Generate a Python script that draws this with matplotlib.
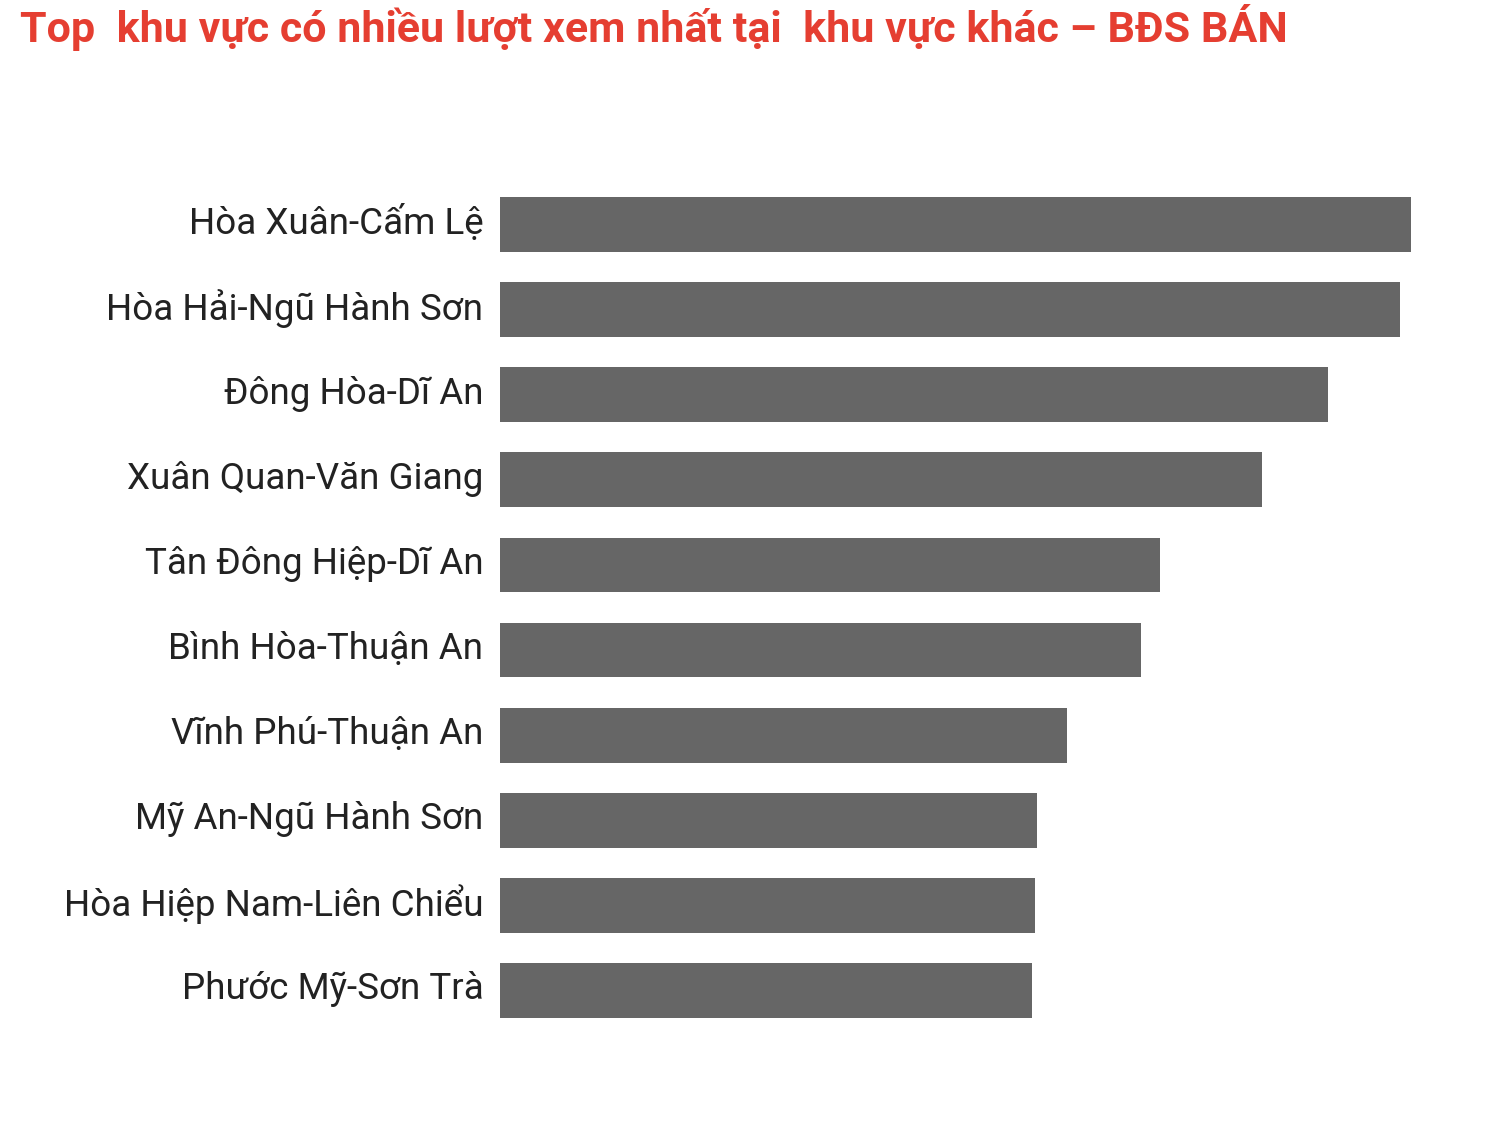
import matplotlib.pyplot as plt
import matplotlib.transforms as mtransforms

# khu vực (từ trên xuống)
areas = [
    "Hòa Xuân-Cấm Lệ",
    "Hòa Hải-Ngũ Hành Sơn",
    "Đông Hòa-Dĩ An",
    "Xuân Quan-Văn Giang",
    "Tân Đông Hiệp-Dĩ An",
    "Bình Hòa-Thuận An",
    "Vĩnh Phú-Thuận An",
    "Mỹ An-Ngũ Hành Sơn",
    "Hòa Hiệp Nam-Liên Chiểu",
    "Phước Mỹ-Sơn Trà",
]
# lượt xem (tương đối, đọc từ độ dài thanh)
views = [911, 900, 828, 762, 660, 641, 567, 537, 535, 532]

title = "Top  khu vực có nhiều lượt xem nhất tại  khu vực khác – BĐS BÁN"

W, H = 1508, 1146
fig = plt.figure(figsize=(W / 100, H / 100), dpi=100)
fig.patch.set_facecolor("white")

ax = fig.add_axes([500 / W, 1 - 1033 / H, (W - 500) / W, (1033 - 182) / H])
ax.barh(range(len(areas)), views, height=0.645, color="#666666")
ax.set_xlim(0, W - 500)
ax.set_ylim(len(areas) - 0.5, -0.5)
ax.set_yticks(range(len(areas)))
ax.set_yticklabels(areas, family="Roboto", fontsize=26.5, color="#222222")
ax.tick_params(axis="y", length=0, pad=12)
# nhích nhãn lên một chút
shift = mtransforms.ScaledTranslation(0, 5 / 100, fig.dpi_scale_trans)
for lbl in ax.get_yticklabels():
    lbl.set_transform(lbl.get_transform() + shift)
ax.set_xticks([])
for s in ax.spines.values():
    s.set_visible(False)

fig.text(20 / W, 1 - 42 / H, title, fontsize=31, fontweight="bold",
         color="#e53e31", family="Roboto", ha="left", va="baseline")

fig.savefig("out.png", dpi=100)
